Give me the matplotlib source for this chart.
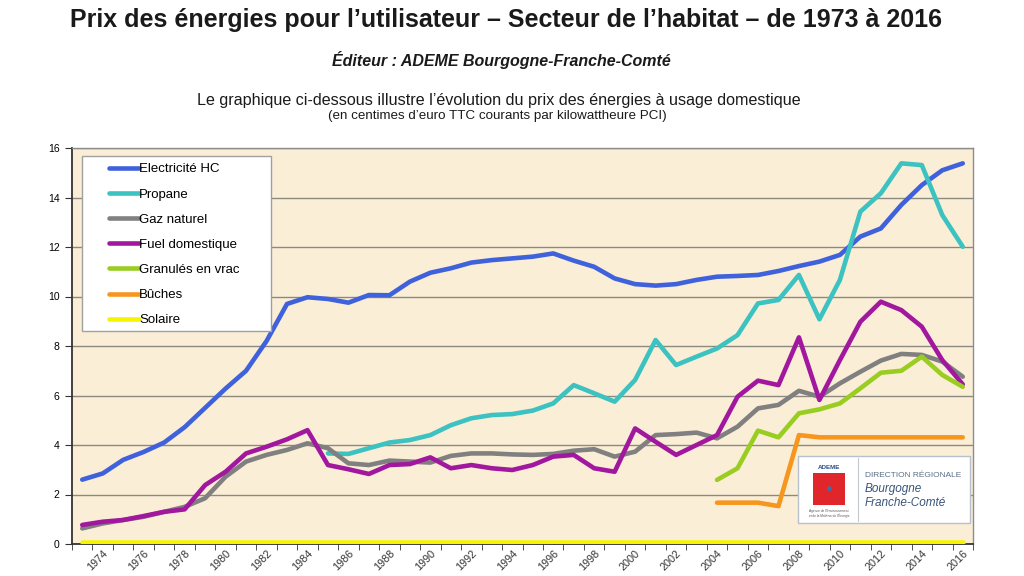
import matplotlib.pyplot as plt
from matplotlib.patches import Rectangle

plt.rcParams['font.family'] = ['Liberation Sans', 'DejaVu Sans']

years = list(range(1973, 2017))

electricite = [2.6, 2.85, 3.4, 3.72, 4.1, 4.72, 5.5, 6.28, 7.0, 8.2, 9.7, 9.97, 9.9, 9.75,
               10.06, 10.05, 10.6, 10.96, 11.14, 11.37, 11.47, 11.54, 11.61, 11.74, 11.45,
               11.2, 10.73, 10.5, 10.44, 10.5, 10.67, 10.8, 10.83, 10.87, 11.03, 11.23,
               11.41, 11.68, 12.42, 12.75, 13.7, 14.5, 15.1, 15.38]

propane_years = list(range(1985, 2017))
propane = [3.66, 3.64, 3.87, 4.1, 4.2, 4.4, 4.8, 5.08, 5.21, 5.25, 5.39, 5.68, 6.42, 6.09,
           5.75, 6.63, 8.24, 7.23, 7.57, 7.9, 8.44, 9.72, 9.86, 10.87, 9.08, 10.67, 13.43,
           14.17, 15.38, 15.31, 13.29, 12.01]

gaz = [0.63, 0.83, 0.97, 1.1, 1.3, 1.5, 1.85, 2.72, 3.33, 3.6, 3.8, 4.07, 3.87, 3.26,
       3.19, 3.37, 3.33, 3.29, 3.56, 3.66, 3.66, 3.62, 3.6, 3.64, 3.77, 3.83, 3.53, 3.73,
       4.4, 4.44, 4.5, 4.27, 4.74, 5.48, 5.62, 6.19, 5.95, 6.49, 6.96, 7.41, 7.68, 7.64,
       7.37, 6.76]

fuel = [0.77, 0.9, 0.97, 1.13, 1.3, 1.4, 2.38, 2.92, 3.66, 3.93, 4.23, 4.6, 3.19, 3.02,
        2.83, 3.19, 3.23, 3.5, 3.06, 3.19, 3.06, 2.99, 3.19, 3.53, 3.6, 3.06, 2.92, 4.67,
        4.13, 3.6, 4.0, 4.4, 5.95, 6.6, 6.42, 8.35, 5.82, 7.43, 8.98, 9.79, 9.45, 8.78,
        7.43, 6.45]

bois_years = list(range(2004, 2017))
granules = [2.59, 3.06, 4.58, 4.31, 5.28, 5.44, 5.68, 6.29, 6.92, 7.0, 7.57, 6.83, 6.35]
buches = [1.67, 1.67, 1.67, 1.53, 4.4, 4.31, 4.31, 4.31, 4.31, 4.31, 4.31, 4.31, 4.31]

solaire = [0.1] * len(years)

fig = plt.figure(figsize=(10.24, 5.76), dpi=100)
fig.patch.set_facecolor('white')
ax = fig.add_axes([72 / 1024, 32 / 576, 901 / 1024, 396 / 576])
ax.set_facecolor('#fbeed6')

lw = 3.3
series = [
    (years, electricite, '#3f62dc', 'Electricité HC'),
    (propane_years, propane, '#3cc2c0', 'Propane'),
    (years, gaz, '#808080', 'Gaz naturel'),
    (years, fuel, '#a1189f', 'Fuel domestique'),
    (bois_years, granules, '#9acd22', 'Granulés en vrac'),
    (bois_years, buches, '#f7961e', 'Bûches'),
    (years, solaire, '#f5f500', 'Solaire'),
]
for xs, ys, c, lab in series:
    ax.plot(xs, ys, color=c, lw=lw, label=lab, solid_joinstyle='round',
            solid_capstyle='round', zorder=3)

ax.set_xlim(1972.5, 2016.5)
ax.set_ylim(0, 16)
ax.set_yticks(range(0, 17, 2))
ax.grid(axis='y', color='#8c8a80', lw=1.0, zorder=1)
ax.tick_params(axis='y', labelsize=7.5, length=5, color='#333333', pad=4)

ax.set_xticks(range(1974, 2017, 2))
ax.set_xticklabels([str(y) for y in range(1974, 2017, 2)], rotation=45,
                   ha='right', rotation_mode='anchor', fontsize=7.8, color='#333333')
ax.set_xticks([y + 0.5 for y in range(1972, 2017)], minor=True)
ax.tick_params(axis='x', which='major', length=0, pad=3)
ax.tick_params(axis='x', which='minor', length=4, color='#333333')

for s in ['top', 'right']:
    ax.spines[s].set_color('#8c8c8c')
    ax.spines[s].set_linewidth(1.0)
for s in ['left', 'bottom']:
    ax.spines[s].set_color('#333333')
    ax.spines[s].set_linewidth(1.3)

# legend box
ax.add_patch(Rectangle((0.011, 0.538), 0.2095, 0.442, transform=ax.transAxes,
                       facecolor='white', edgecolor='#a0a0a0', lw=1.0, zorder=4))
leg = ax.legend(loc='upper left', bbox_to_anchor=(0.035, 0.975), frameon=False,
                fontsize=9.5, handlelength=2.3, handletextpad=0.0, labelspacing=0.98,
                borderaxespad=0)
leg.set_zorder(5)

# ADEME logo block
ax.add_patch(Rectangle((0.8057, 0.0530), 0.1912, 0.1692, transform=ax.transAxes,
                       facecolor='white', edgecolor='#b8c0cc', lw=1.0, zorder=4))
ax.add_patch(Rectangle((0.8223, 0.0985), 0.0355, 0.0808, transform=ax.transAxes,
                       facecolor='#e0262b', edgecolor='none', zorder=5))
ax.plot([0.8724, 0.8724], [0.058, 0.218], transform=ax.transAxes, color='#c0c8d0',
        lw=0.8, zorder=5)
ax.text(0.840, 0.194, 'ADEME', transform=ax.transAxes, fontsize=4.5, color='#2b4c8c',
        fontweight='bold', ha='center', va='center', zorder=6)
ax.text(0.840, 0.140, '●', transform=ax.transAxes, fontsize=8, color='#3a6fb0',
        ha='center', va='center', zorder=6)
ax.text(0.840, 0.077, "Agence de l'Environnement\net de la Maîtrise de l'Énergie",
        transform=ax.transAxes, fontsize=2.3, color='#555555', ha='center', va='center',
        zorder=6)
ax.text(0.880, 0.172, 'DIRECTION RÉGIONALE', transform=ax.transAxes, fontsize=6,
        color='#5a6f86', ha='left', va='center', zorder=6)
ax.text(0.880, 0.138, 'Bourgogne', transform=ax.transAxes, fontsize=8.5,
        color='#3a5578', style='italic', ha='left', va='center', zorder=6)
ax.text(0.880, 0.104, 'Franche-Comté', transform=ax.transAxes, fontsize=8.5,
        color='#3a5578', style='italic', ha='left', va='center', zorder=6)

# titles
fig.text(0.4946, 1 - 20 / 576, 'Prix des énergies pour l’utilisateur – Secteur de l’habitat – de 1973 à 2016',
         ha='center', va='center', fontsize=18, fontweight='bold', color='#1a1a1a')
fig.text(0.4893, 1 - 60 / 576, 'Éditeur : ADEME Bourgogne-Franche-Comté', ha='center',
         va='center', fontsize=11.5, fontweight='bold', style='italic', color='#1a1a1a')
fig.text(0.4873, 1 - 100 / 576,
         'Le graphique ci-dessous illustre l’évolution du prix des énergies à usage domestique',
         ha='center', va='center', fontsize=11.6, color='#1a1a1a')
fig.text(0.4858, 1 - 116 / 576, '(en centimes d’euro TTC courants par kilowattheure PCI)',
         ha='center', va='center', fontsize=9.6, color='#1a1a1a')

fig.savefig('out.png', dpi=100)
